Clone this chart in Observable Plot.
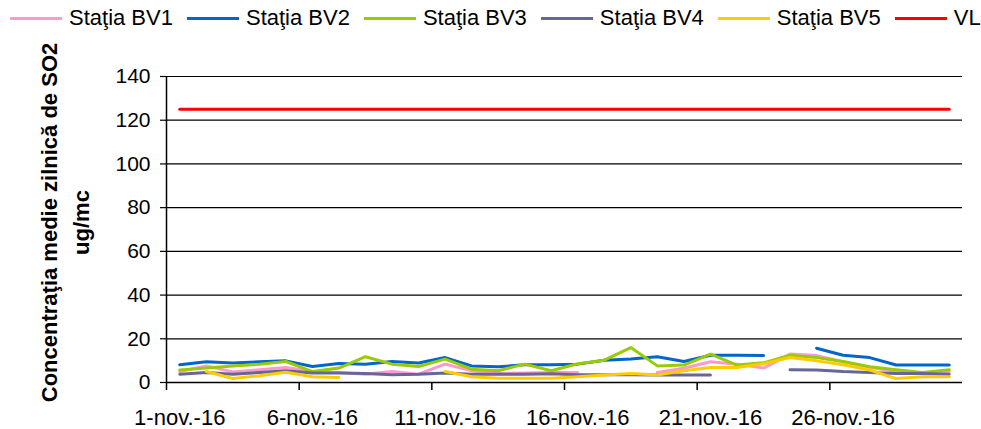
<!DOCTYPE html>
<html><head><meta charset="utf-8">
<script src="https://cdn.jsdelivr.net/npm/d3@7"></script>
<script src="https://cdn.jsdelivr.net/npm/@observablehq/plot@0.6"></script>
<style>
body{margin:0;background:#fff;font-family:"Liberation Sans",Arial,sans-serif;}
#legend{height:36px;display:flex;align-items:center;padding-left:10px;font-size:22px;color:#000;white-space:nowrap;box-sizing:border-box}
.item{display:flex;align-items:center;margin-right:14px}
.sw{width:52px;height:3px;margin-right:7px}
</style></head><body>
<div id="legend"></div><div id="chart"></div>
<script>
const days = [1,2,3,4,5,6,7,8,9,10,11,12,13,14,15,16,17,18,19,20,21,22,23,24,25,26,27,28,29,30];
const seriesNames = ["Staţia BV1","Staţia BV2","Staţia BV3","Staţia BV4","Staţia BV5","VL"];
const seriesColors = ["#FF99CC","#0066CC","#99CC00","#666699","#FFCC00","#FF0000"];
const bv1 = [5.0,7.6,4.8,5.8,6.9,5.0,4.6,3.8,5.0,3.8,8.4,5.4,4.1,4.4,4.6,4.6,null,null,4.6,6.5,9.5,8.4,6.6,13.0,12.3,9.5,7.0,5.0,4.5,5.0];
const bv2 = [8.1,9.5,8.9,9.5,9.9,7.3,8.7,8.4,9.6,8.9,11.4,7.6,7.2,8.1,8.1,8.4,10.2,10.7,11.8,9.6,12.5,12.5,12.3,null,15.7,12.5,11.4,8.0,8.0,8.0];
const bv3 = [5.7,6.6,7.5,8.4,9.6,5.0,6.6,11.8,8.4,7.3,10.7,6.1,5.4,8.4,5.4,8.6,10.2,16.0,7.6,8.0,13.0,8.0,9.0,12.5,11.4,9.6,7.2,5.8,4.6,5.8];
const bv4 = [3.8,4.6,3.8,4.6,5.4,4.4,4.4,4.1,3.5,3.8,4.4,3.8,3.8,3.8,4.0,3.6,3.5,3.5,3.4,3.4,3.4,null,null,5.8,5.7,5.0,4.6,4.1,4.1,3.8];
const bv5 = [null,5.0,1.8,3.1,4.7,2.6,2.3,null,null,null,5.0,2.6,2.0,2.0,2.0,2.6,3.4,4.1,3.4,5.4,6.9,6.9,8.6,11.4,9.9,8.1,5.7,1.8,2.6,2.6];
const vl = [125,125,125,125,125,125,125,125,125,125,125,125,125,125,125,125,125,125,125,125,125,125,125,125,125,125,125,125,125,125];
const yTicks = [0,20,40,60,80,100,120,140];
const xTickDays = [1,6,11,16,21,26];
const xTickLabels = ["1-nov.-16","6-nov.-16","11-nov.-16","16-nov.-16","21-nov.-16","26-nov.-16"];
const yTitle = "Concentraţia medie zilnică de SO2\nug/mc";

const allSeries = [bv1,bv2,bv3,bv4,bv5,vl];
const data = [];
allSeries.forEach((arr, i) => arr.forEach((v, j) => data.push({series: seriesNames[i], day: days[j], value: v})));

// legend
const legend = document.getElementById("legend");
seriesNames.forEach((n, i) => {
  const it = document.createElement("div"); it.className = "item";
  const sw = document.createElement("div"); sw.className = "sw"; sw.style.background = seriesColors[i];
  const tx = document.createElement("span"); tx.textContent = n;
  it.appendChild(sw); it.appendChild(tx); legend.appendChild(it);
});

const boundaries = d3.range(0.5, 26, 5);

const chart = Plot.plot({
  width: 981, height: 393,
  marginLeft: 166, marginRight: 19, marginTop: 40, marginBottom: 47,
  style: {fontFamily: "Liberation Sans, Arial, sans-serif", fontSize: "22px", color: "black", background: "white"},
  x: {domain: [0.5, 30.5]},
  y: {domain: [0, 140]},
  color: {domain: seriesNames, range: seriesColors},
  marks: [
    Plot.ruleY(yTicks.filter(d => d > 0), {stroke: "black", strokeWidth: 1.2}),
    Plot.axisY({ticks: yTicks, tickSize: 6, tickPadding: 10, fontSize: 21, label: null, stroke: "black", strokeWidth: 1.2}),
    Plot.axisX({ticks: boundaries, tickSize: 8, text: null, label: null, stroke: "black", strokeWidth: 1.5}),
    Plot.axisX({ticks: xTickDays, tickSize: 0, tickPadding: 27, tickFormat: d => xTickLabels[xTickDays.indexOf(d)], fontSize: 22, label: null}),
    Plot.line(data, {x: "day", y: "value", z: "series", stroke: "series", strokeWidth: 3, curve: "linear"}),
    Plot.ruleY([0], {stroke: "black", strokeWidth: 1.5}),
    Plot.ruleX([0.5], {stroke: "black", strokeWidth: 1.5}),
    Plot.text([yTitle], {frameAnchor: "left", textAnchor: "middle", lineAnchor: "middle", text: d => d, rotate: -90, dx: -104, dy: -7, fontSize: 22, fontWeight: "bold", lineHeight: 1.45, fill: "black"})
  ]
});
document.getElementById("chart").appendChild(chart);
</script>
</body></html>
